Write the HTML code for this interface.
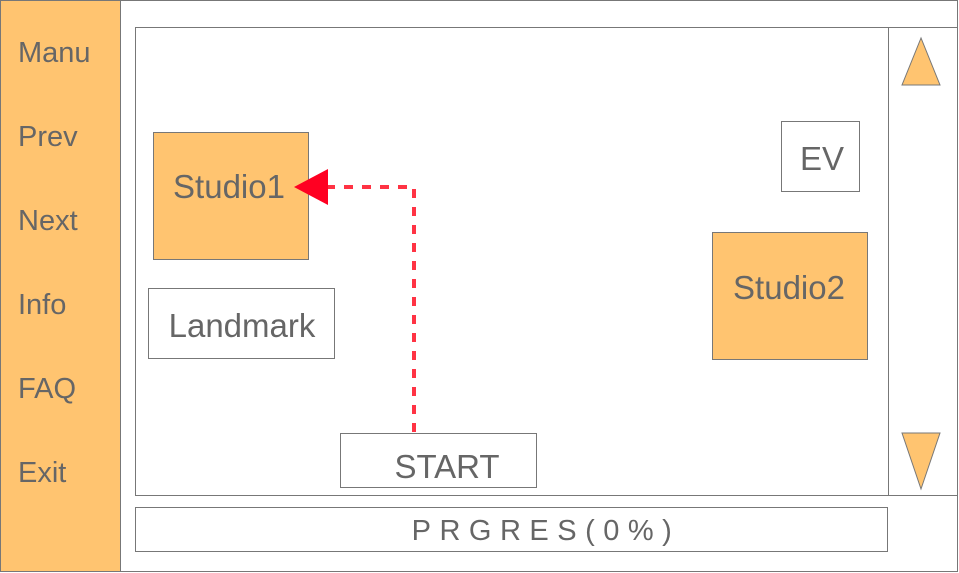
<!DOCTYPE html>
<html><head><meta charset="utf-8"><style>
body{margin:0;background:#fff;}
svg{display:block;}
text{font-family:"Liberation Sans",sans-serif;fill:#666;}
</style></head><body>
<svg width="959" height="573" viewBox="0 0 959 573">
<rect x="0.5" y="0.5" width="957" height="571" fill="#fff" stroke="#777"/>
<rect x="0.5" y="0.5" width="120" height="571" fill="#ffc470" stroke="#777"/>
<g font-size="29">
<text x="18" y="62">Manu</text>
<text x="18" y="146">Prev</text>
<text x="18" y="230">Next</text>
<text x="18" y="314">Info</text>
<text x="18" y="398">FAQ</text>
<text x="18" y="482">Exit</text>
</g>
<rect x="135.5" y="27.5" width="753" height="468" fill="#fff" stroke="#777"/>
<line x1="888" y1="27.5" x2="958" y2="27.5" stroke="#777"/>
<line x1="888" y1="495.5" x2="958" y2="495.5" stroke="#777"/>
<polygon points="921,38 902,85 940,85" fill="#ffc470" stroke="#777"/>
<polygon points="902,433 940,433 921,489" fill="#ffc470" stroke="#777"/>
<rect x="153.5" y="132.5" width="155" height="127" fill="#ffc470" stroke="#777"/>
<text x="229" y="198" font-size="33" text-anchor="middle">Studio1</text>
<rect x="148.5" y="288.5" width="186" height="70" fill="#fff" stroke="#777"/>
<text x="242" y="337" font-size="33" text-anchor="middle">Landmark</text>
<rect x="781.5" y="121.5" width="78" height="70" fill="#fff" stroke="#777"/>
<text x="822" y="170" font-size="33" text-anchor="middle">EV</text>
<rect x="712.5" y="232.5" width="155" height="127" fill="#ffc470" stroke="#777"/>
<text x="789" y="299" font-size="33" text-anchor="middle">Studio2</text>
<rect x="340.5" y="433.5" width="196" height="54" fill="#fff" stroke="#777"/>
<text x="447" y="478" font-size="33" text-anchor="middle">START</text>
<polyline points="414,432 414,187 326,187" fill="none" stroke="#ff3344" stroke-width="4" stroke-dasharray="9,9"/>
<polygon points="294,187 328,169 328,205" fill="#ff0022"/>
<rect x="135.5" y="507.5" width="752" height="44" fill="#fff" stroke="#777"/>
<text x="546" y="540" font-size="29" text-anchor="middle" letter-spacing="8.5">PRGRES(0%)</text>
</svg>
</body></html>
